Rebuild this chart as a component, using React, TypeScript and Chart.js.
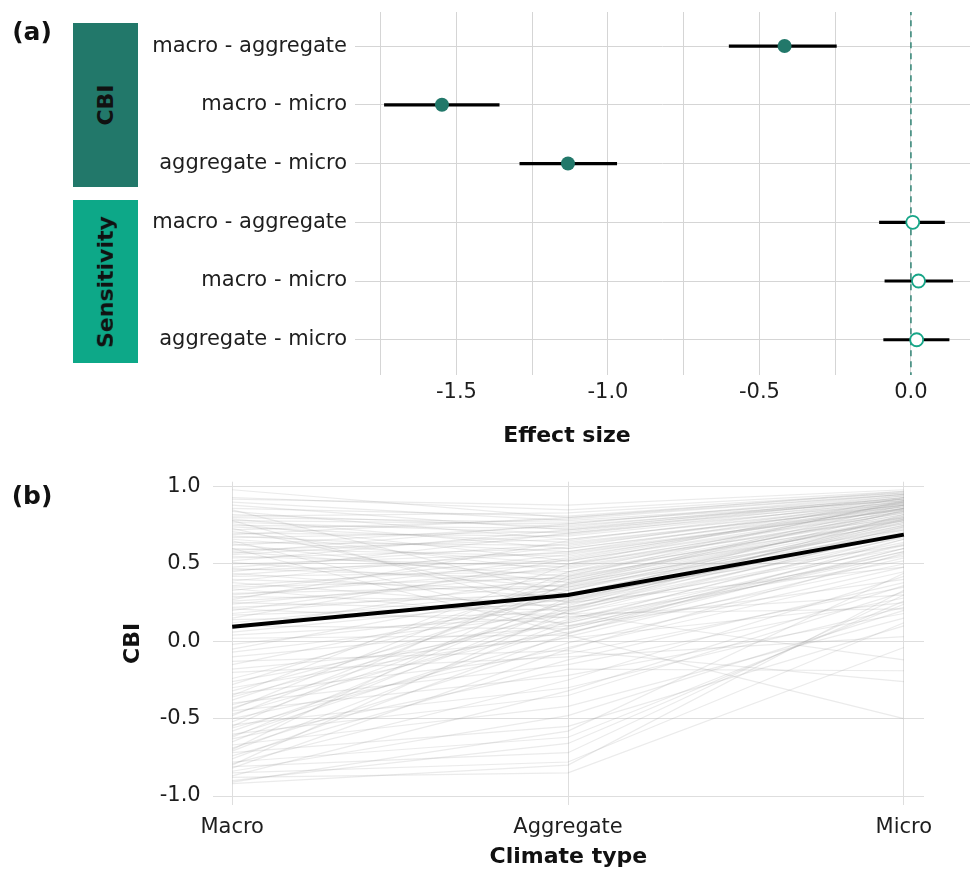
import React, { useEffect, useRef } from "react";
import { Chart, registerables } from "chart.js";
Chart.register(...registerables);

const FONT = "'DejaVu Sans', Verdana, sans-serif";

// ---------- Panel (a) data ----------
const rowLabels = ["macro - aggregate", "macro - micro", "aggregate - micro", "macro - aggregate", "macro - micro", "aggregate - micro"];
const rowGroups = ["CBI", "CBI", "CBI", "Sensitivity", "Sensitivity", "Sensitivity"];
const effectEstimate = [-0.417, -1.548, -1.132, 0.006, 0.025, 0.019];
const effectLower = [-0.601, -1.739, -1.292, -0.105, -0.087, -0.091];
const effectUpper = [-0.245, -1.358, -0.970, 0.112, 0.139, 0.127];
const effectGridTicks = [-1.75, -1.5, -1.25, -1.0, -0.75, -0.5, -0.25, 0];
const effectReference = 0;

// ---------- Panel (b) data ----------
const climateTypes = ["Macro", "Aggregate", "Micro"];
const cbiTicks = [-1, -0.5, 0, 0.5, 1];
const meanCBI = [0.095, 0.30, 0.69];
const macroCBI = [
  0.98, 0.93, 0.90, 0.88, 0.86, 0.84, 0.82, 0.80, 0.79, 0.78, 0.77, 0.76, 0.75, 0.74, 0.72, 0.71, 0.70, 0.68, 0.67, 0.66,
  0.64, 0.63, 0.62, 0.60, 0.59, 0.58, 0.56, 0.55, 0.54, 0.52, 0.51, 0.50,
  0.85, 0.78, 0.73, 0.65, 0.60,
  0.48, 0.47, 0.46, 0.44, 0.43, 0.42, 0.40, 0.39, 0.38, 0.36, 0.35, 0.34, 0.33, 0.31, 0.30, 0.29, 0.28, 0.26, 0.25, 0.24,
  0.22, 0.21, 0.20, 0.18, 0.17, 0.15, 0.14, 0.12, 0.10, 0.08, 0.06, 0.04, 0.02,
  -0.02, -0.05, -0.07, -0.10, -0.13, -0.15, -0.18, -0.20,
  -0.24, -0.26, -0.28, -0.30, -0.32, -0.34, -0.36, -0.38, -0.40, -0.41, -0.43, -0.45, -0.47, -0.48, -0.50, -0.52, -0.54,
  -0.56, -0.58, -0.60, -0.61, -0.63, -0.65, -0.67, -0.69, -0.71, -0.72, -0.74, -0.76, -0.78, -0.79, -0.81, -0.82, -0.84,
  -0.85, -0.87, -0.88, -0.90, -0.91, -0.92,
  -0.44, -0.62, -0.35, -0.70, -0.55, -0.80,
  0.92, 0.81, 0.69, 0.57, 0.45, 0.27,
];
const aggregateCBI = [
  0.80, 0.85, 0.78, 0.72, 0.81, 0.66, 0.74, 0.77, 0.60, 0.76, 0.70, 0.52, 0.73, 0.64, 0.79, 0.45, 0.68, 0.58, 0.71, 0.50,
  0.62, 0.38, 0.75, 0.55, 0.66, 0.42, 0.69, 0.48, 0.60, 0.72, 0.35, 0.57,
  0.30, 0.18, 0.25, 0.10, 0.05,
  0.63, 0.40, 0.52, 0.28, 0.58, 0.45, 0.33, 0.61, 0.22, 0.50, 0.41, 0.15, 0.56, 0.36, 0.47, 0.26, 0.54, 0.39, 0.20, 0.44,
  0.31, 0.12, 0.49, 0.37, 0.24, 0.53, 0.18, 0.34, 0.08, 0.43, 0.27, 0.16, 0.04,
  0.22, 0.35, 0.18, 0.10, -0.06, 0.29, 0.02, -0.10,
  0.30, 0.12, 0.40, 0.06, 0.25, -0.08, 0.19, 0.33, -0.15, 0.08, 0.21, -0.22, 0.14, 0.37, -0.04, 0.26, -0.30, 0.03, 0.17,
  -0.35, 0.09, -0.18, 0.23, -0.42, -0.01, 0.13, -0.55, -0.12, 0.05, -0.62, -0.25, -0.72, -0.05, -0.48, -0.78, -0.32,
  -0.85, -0.66, -0.58, -0.80,
  0.45, 0.28, 0.50, 0.38, 0.42, 0.20,
  0.88, 0.83, 0.80, 0.76, 0.70, 0.65,
];
const microCBI = [
  0.95, 0.97, 0.92, 0.90, 0.96, 0.88, 0.93, 0.91, 0.86, 0.94, 0.89, 0.84, 0.92, 0.87, 0.95, 0.78, 0.90, 0.85, 0.93, 0.80,
  0.88, 0.72, 0.91, 0.86, 0.89, 0.76, 0.92, 0.83, 0.87, 0.94, 0.70, 0.85,
  0.62, 0.55, 0.48, 0.40, 0.66,
  0.88, 0.79, 0.86, 0.68, 0.90, 0.82, 0.75, 0.91, 0.60, 0.84, 0.80, 0.52, 0.87, 0.77, 0.83, 0.70, 0.89, 0.78, 0.64, 0.81,
  0.74, 0.58, 0.86, 0.79, 0.69, 0.88, 0.21, 0.76, 0.60, 0.82, 0.73, 0.30, -0.50,
  0.67, 0.80, -0.12, 0.56, -0.26, 0.75, 0.25, 0.03,
  0.78, 0.62, 0.84, 0.50, 0.72, 0.35, 0.70, 0.81, 0.28, 0.58, 0.74, 0.18, 0.66, 0.86, 0.45, 0.77, 0.22, 0.54, 0.71, 0.32,
  0.63, -0.19, 0.79, 0.15, 0.48, 0.68, 0.10, 0.38, 0.60, 0.24, 0.42, 0.30, 0.57, 0.20, 0.12, 0.36, -0.04, 0.26, 0.44, 0.33,
  0.90, 0.85, 0.93, 0.88, 0.91, 0.82,
  0.98, 0.96, 0.97, 0.95, 0.93, 0.92,
];

const CBI_DARK = "#22786A";
const SENS_GREEN = "#0DA888";

function Txt(props: { x: number; y: number; text: string; size: number; bold?: boolean; rotate?: number; color?: string }) {
  const { x, y, text, size, bold, rotate, color } = props;
  return (
    <div
      style={{
        position: "absolute",
        left: x,
        top: y,
        transform: `translate(-50%, -50%)${rotate ? ` rotate(${rotate}deg)` : ""}`,
        fontFamily: FONT,
        fontSize: size,
        fontWeight: bold ? "bold" : "normal",
        color: color || "#111",
        whiteSpace: "nowrap",
        lineHeight: 1.2,
      }}
    >
      {text}
    </div>
  );
}

function zeroPad(s: any) {
  s.paddingLeft = 0;
  s.paddingRight = 0;
  s.paddingTop = 0;
  s.paddingBottom = 0;
}

export default function App() {
  const refA = useRef<HTMLCanvasElement | null>(null);
  const refB = useRef<HTMLCanvasElement | null>(null);

  useEffect(() => {
    const tickFont = { family: FONT, size: 21 };

    // ---------- Panel (a) ----------
    const rowsIdx = rowLabels.map((_, i) => i);
    const cbiPts = rowsIdx.filter((i) => rowGroups[i] === "CBI").map((i) => ({ x: effectEstimate[i], y: i + 1 }));
    const sensPts = rowsIdx.filter((i) => rowGroups[i] === "Sensitivity").map((i) => ({ x: effectEstimate[i], y: i + 1 }));
    const bars = rowsIdx.map((i) => ({
      type: "line" as const,
      data: [
        { x: effectLower[i], y: i + 1 },
        { x: effectUpper[i], y: i + 1 },
      ],
      borderColor: "#000",
      borderWidth: 3.2,
      pointRadius: 0,
      borderCapStyle: "butt" as const,
    }));

    const chartA = new Chart(refA.current!, {
      type: "line",
      data: {
        datasets: [
          {
            data: cbiPts,
            showLine: false,
            pointRadius: 7,
            pointBackgroundColor: CBI_DARK,
            pointBorderColor: CBI_DARK,
            pointBorderWidth: 0,
          } as any,
          {
            data: sensPts,
            showLine: false,
            pointRadius: 6.5,
            pointBackgroundColor: "#ffffff",
            pointBorderColor: "#17A688",
            pointBorderWidth: 1.8,
          } as any,
          ...bars,
          {
            data: [
              { x: effectReference, y: 0 },
              { x: effectReference, y: 7 },
            ],
            borderColor: "#3D8B7C",
            borderWidth: 1.6,
            borderDash: [6, 5],
            pointRadius: 0,
          } as any,
        ],
      },
      options: {
        animation: false,
        responsive: false,
        events: [],
        layout: { autoPadding: false, padding: { left: 0, right: 1, top: 12, bottom: 0 } },
        plugins: { legend: { display: false }, tooltip: { enabled: false } },
        scales: {
          x: {
            type: "linear",
            min: -1.835,
            max: 0.195,
            afterBuildTicks: (s: any) => {
              s.ticks = effectGridTicks.map((v) => ({ value: v }));
            },
            afterFit: (s: any) => {
              s.height = 75;
              zeroPad(s);
            },
            grid: { color: "#d5d5d5", lineWidth: 1, drawTicks: false },
            border: { display: false },
            ticks: {
              autoSkip: false,
              maxRotation: 0,
              padding: 5,
              font: tickFont,
              color: "#1e1e1e",
              callback: (v: any) => {
                const n = Number(v);
                return Math.abs(n * 2 - Math.round(n * 2)) < 1e-9 ? n.toFixed(1) : "";
              },
            },
          },
          y: {
            type: "linear",
            reverse: true,
            min: 0.42,
            max: 6.6,
            afterBuildTicks: (s: any) => {
              s.ticks = rowLabels.map((_, i) => ({ value: i + 1 }));
            },
            afterFit: (s: any) => {
              s.width = 355;
              zeroPad(s);
            },
            grid: { color: "#d5d5d5", lineWidth: 1, drawTicks: false },
            border: { display: false },
            ticks: {
              autoSkip: false,
              padding: 8,
              font: tickFont,
              color: "#1e1e1e",
              callback: (v: any) => rowLabels[Math.round(Number(v)) - 1] ?? "",
            },
          },
        },
      },
    });

    // ---------- Panel (b) ----------
    const n = Math.min(macroCBI.length, aggregateCBI.length, microCBI.length);
    const grey: any[] = [];
    for (let i = 0; i < n; i++) {
      grey.push({
        data: [
          { x: 0, y: macroCBI[i] },
          { x: 1, y: aggregateCBI[i] },
          { x: 2, y: microCBI[i] },
        ],
        borderColor: "rgba(150,150,150,0.19)",
        borderWidth: 1.2,
        pointRadius: 0,
      });
    }

    const chartB = new Chart(refB.current!, {
      type: "line",
      data: {
        datasets: [
          {
            data: meanCBI.map((v, i) => ({ x: i, y: v })),
            borderColor: "#000",
            borderWidth: 4,
            pointRadius: 0,
          } as any,
          ...grey,
        ],
      },
      options: {
        animation: false,
        responsive: false,
        events: [],
        layout: { autoPadding: false, padding: { left: 0, right: 47, top: 31.7, bottom: 0 } },
        plugins: { legend: { display: false }, tooltip: { enabled: false } },
        scales: {
          x: {
            type: "linear",
            min: -0.058,
            max: 2.06,
            afterBuildTicks: (s: any) => {
              s.ticks = climateTypes.map((_, i) => ({ value: i }));
            },
            afterFit: (s: any) => {
              s.height = 69;
              zeroPad(s);
            },
            grid: { color: "#dedede", lineWidth: 1, drawTicks: false },
            border: { display: false },
            ticks: {
              autoSkip: false,
              maxRotation: 0,
              padding: 10,
              font: tickFont,
              color: "#1e1e1e",
              callback: (v: any) => climateTypes[Math.round(Number(v))] ?? "",
            },
            title: {
              display: true,
              text: "Climate type",
              font: { family: FONT, size: 22, weight: "bold" },
              color: "#111",
              padding: { top: 0, bottom: 4 },
            },
          },
          y: {
            type: "linear",
            min: -1.058,
            max: 1.032,
            afterBuildTicks: (s: any) => {
              s.ticks = cbiTicks.map((v) => ({ value: v }));
            },
            afterFit: (s: any) => {
              s.width = 212.7;
              zeroPad(s);
            },
            grid: { color: "#dedede", lineWidth: 1, drawTicks: false },
            border: { display: false },
            ticks: {
              autoSkip: false,
              padding: 12,
              font: tickFont,
              color: "#1e1e1e",
              callback: (v: any) => Number(v).toFixed(1),
            },
            title: {
              display: true,
              text: "CBI",
              font: { family: FONT, size: 22, weight: "bold" },
              color: "#111",
              padding: { top: 120, bottom: 0 },
            },
          },
        },
      },
    });

    return () => {
      chartA.destroy();
      chartB.destroy();
    };
  }, []);

  return (
    <div style={{ position: "absolute", left: 0, top: 0, width: 971, height: 874, background: "#fff", overflow: "hidden" }}>
      <canvas ref={refA} width={971} height={450} style={{ position: "absolute", left: 0, top: 0, display: "block" }} />
      <canvas ref={refB} width={971} height={424} style={{ position: "absolute", left: 0, top: 450, display: "block" }} />

      <div style={{ position: "absolute", left: 73, top: 23, width: 65, height: 164, background: CBI_DARK }} />
      <div style={{ position: "absolute", left: 73, top: 200, width: 65, height: 163, background: SENS_GREEN }} />
      <Txt x={105.5} y={105} text="CBI" size={22} bold rotate={-90} />
      <Txt x={105.5} y={281.5} text="Sensitivity" size={22} bold rotate={-90} />

      <Txt x={32} y={32} text="(a)" size={25} bold />
      <Txt x={32} y={496} text="(b)" size={25} bold />
      <Txt x={567} y={435} text="Effect size" size={22} bold />
    </div>
  );
}
